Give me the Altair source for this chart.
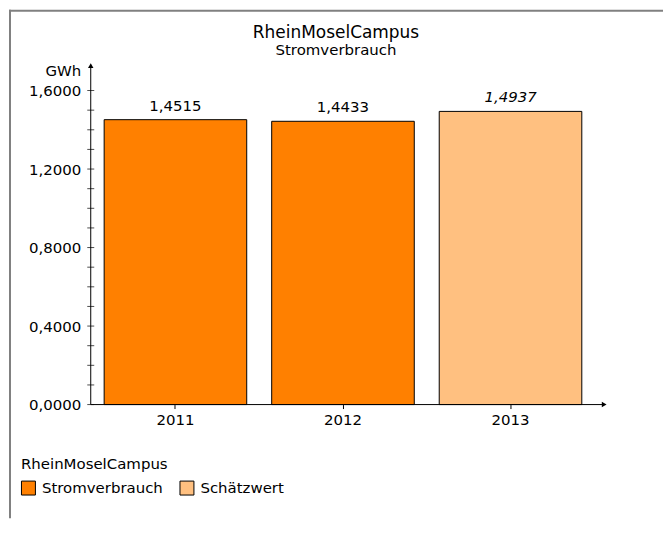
import altair as alt
import pandas as pd

# ---- data ----
years = ["2011", "2012", "2013"]
values = [1.4515, 1.4433, 1.4937]
types = ["Stromverbrauch", "Stromverbrauch", "Schätzwert"]
type_order = ["Stromverbrauch", "Schätzwert"]
type_colors = ["#FF8000", "#FFC080"]
y_major = [0.0, 0.4, 0.8, 1.2, 1.6]
y_minor = [0.0, 0.1, 0.2, 0.3, 0.4, 0.5, 0.6, 0.7, 0.8, 0.9, 1.0, 1.1, 1.2, 1.3, 1.4, 1.5, 1.6]

df = pd.DataFrame({"Jahr": years, "GWh": values, "Typ": types})
ticks_df = pd.DataFrame({"GWh": y_minor})
one = pd.DataFrame({"a": [0]})

W, H = 506, 315
FONT = "DejaVu Sans"
FS = 15
LABEL_EXPR = "replace(format(datum.value, '.4f'), '.', ',')"

yscale = alt.Scale(domain=[0, 1.6], nice=False, zero=True)
yaxis = alt.Axis(values=y_major, labelExpr=LABEL_EXPR, domain=False, ticks=False,
                 grid=False, labelPadding=10, labelFontSize=FS, labelColor="black",
                 labelFont=FONT, title="GWh", titleAngle=0, titleX=-10, titleY=-20,
                 titleAlign="right", titleBaseline="middle", titleFontWeight="normal",
                 titleFontSize=FS, titleColor="black", titleFont=FONT)

x = alt.X(
    "Jahr:N",
    sort=years,
    scale=alt.Scale(paddingInner=0.149, paddingOuter=0.08),
    axis=alt.Axis(title=None, labelAngle=0, domain=False, ticks=True, tickSize=4,
                  tickColor="black", labelFontSize=FS, labelPadding=4,
                  labelColor="black", labelFont=FONT, grid=False),
)
y = alt.Y("GWh:Q", scale=yscale, axis=yaxis)

bars = alt.Chart(df).mark_bar(stroke="black", strokeWidth=1).encode(
    x=x,
    y=y,
    color=alt.Color(
        "Typ:N",
        scale=alt.Scale(domain=type_order, range=type_colors),
        legend=alt.Legend(
            title="RheinMoselCampus", orient="none", legendX=-70, legendY=368,
            direction="horizontal", titleFontSize=FS, titleFontWeight="normal",
            titleColor="black", titleFont=FONT, labelFont=FONT, labelFontSize=FS,
            labelColor="black", symbolType="square", symbolSize=196,
            symbolStrokeColor="black", symbolStrokeWidth=1, labelOffset=6,
            columnPadding=14, titlePadding=8,
        ),
    ),
)

label_base = alt.Chart(df).transform_calculate(lab=LABEL_EXPR.replace("datum.value", "datum.GWh"))
labels_normal = label_base.transform_filter("datum.Typ == 'Stromverbrauch'").mark_text(
    dy=-9, baseline="alphabetic", fontSize=FS, font=FONT, color="black"
).encode(x=alt.X("Jahr:N", sort=years), y=alt.Y("GWh:Q", scale=yscale, axis=yaxis), text="lab:N")
labels_italic = label_base.transform_filter("datum.Typ == 'Schätzwert'").mark_text(
    dy=-9, baseline="alphabetic", fontSize=FS, font=FONT, color="black", fontStyle="italic"
).encode(x=alt.X("Jahr:N", sort=years), y=alt.Y("GWh:Q", scale=yscale, axis=yaxis), text="lab:N")

yticks = alt.Chart(ticks_df).mark_tick(color="black", thickness=1, size=7).encode(
    y=alt.Y("GWh:Q", scale=yscale, axis=yaxis), x=alt.value(0)
)

yline = alt.Chart(one).mark_rule(color="black", strokeWidth=1).encode(
    x=alt.value(0), y=alt.value(-24), y2=alt.value(H)
)
yarrow = alt.Chart(one).mark_point(shape="triangle-up", filled=True, color="black", size=30, opacity=1).encode(
    x=alt.value(0), y=alt.value(-25)
)
xline = alt.Chart(one).mark_rule(color="black", strokeWidth=1).encode(
    x=alt.value(0), x2=alt.value(515), y=alt.value(H)
)
xarrow = alt.Chart(one).mark_point(shape="triangle-right", filled=True, color="black", size=30, opacity=1).encode(
    x=alt.value(515), y=alt.value(H)
)

border_top = alt.Chart(one).mark_rule(color="#808080", strokeWidth=2).encode(
    x=alt.value(-82), x2=alt.value(574), y=alt.value(-80)
)
border_left = alt.Chart(one).mark_rule(color="#808080", strokeWidth=2).encode(
    x=alt.value(-81), y=alt.value(-81), y2=alt.value(429)
)

chart = alt.layer(
    border_top, border_left, bars, labels_normal, labels_italic,
    yticks, yline, yarrow, xline, xarrow,
).properties(
    width=W, height=H, padding=0,
    title=alt.TitleParams(
        text="RheinMoselCampus", subtitle="Stromverbrauch", anchor="middle",
        fontSize=17, fontWeight="normal", color="black", font=FONT,
        subtitleFontSize=15, subtitleColor="black", subtitleFont=FONT,
        subtitlePadding=1, dx=-7, dy=54,
    ),
).configure(font=FONT, background="white").configure_view(strokeWidth=0, stroke="transparent")

chart.save("out.html", embed_options={"renderer": "svg", "actions": False})
